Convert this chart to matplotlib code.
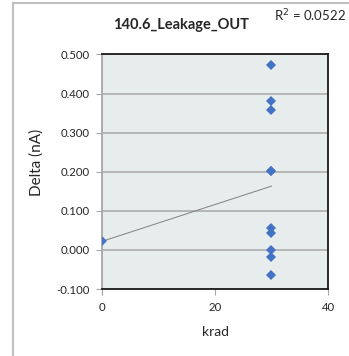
import matplotlib
matplotlib.use('Agg')
import matplotlib.pyplot as plt
from matplotlib.lines import Line2D
import numpy as np

plt.rcParams['font.family'] = ['Lato', 'DejaVu Sans']

krad = [0, 30, 30, 30, 30, 30, 30, 30, 30, 30, 30]
delta = [0.022, 0.472, 0.382, 0.357, 0.202, 0.201, 0.057, 0.044, 0.001, -0.019, -0.064]
x_ticks = [0, 20, 40]
y_ticks = [-0.1, 0.0, 0.1, 0.2, 0.3, 0.4, 0.5]
title = '140.6_Leakage_OUT'
r2_text = 'R$^2$ = 0.0522'

fig = plt.figure(figsize=(3.49, 3.56), dpi=100)
ax = fig.add_axes([0.2923, 0.188, 0.6475, 0.659])
ax.set_facecolor('#E7ECEC')

# trend line over the data range
k, b = np.polyfit(krad, delta, 1)
xs = np.array([min(krad), max(krad)])
ax.plot(xs, k * xs + b, color='#7F7F7F', linewidth=0.7, zorder=2)

ax.plot(krad, delta, linestyle='none', marker='D', markersize=5.2,
        color='#4472C4', markeredgewidth=0, zorder=3)

ax.set_xlim(0, 40)
ax.set_ylim(-0.1, 0.5)
ax.set_xticks(x_ticks)
ax.set_yticks(y_ticks)
ax.set_yticklabels([f'{v:.3f}' for v in y_ticks])
ax.grid(axis='y', color='#A6A6A6', linewidth=1.1)
ax.set_axisbelow(True)
ax.tick_params(labelsize=8.2, length=4, width=0.8, color='#A6A6A6', pad=5,
               labelcolor='#262626')

for s in ['top', 'right', 'bottom']:
    ax.spines[s].set_color('#1A1A1A')
    ax.spines[s].set_linewidth(1.3)
ax.spines['left'].set_color('#A6A6A6')
ax.spines['left'].set_linewidth(1.3)

ax.set_xlabel('krad', fontsize=10, color='#262626', labelpad=10)
ax.set_ylabel('Delta (nA)', fontsize=11, color='#262626')
ax.yaxis.set_label_coords(-0.257, 0.54)

fig.text(0.52, 0.93, title, fontsize=10.5, fontweight='bold', ha='center',
         va='center', color='#262626')
fig.text(0.785, 0.955, r2_text, fontsize=9.5, ha='left', va='center',
         color='#262626')

# outer chart frame (left and top edges visible)
fig.add_artist(Line2D([13 / 349, 13 / 349], [0, 1 - 3 / 356], color='#C0C0C0',
                      linewidth=1.5, transform=fig.transFigure))
fig.add_artist(Line2D([13 / 349, 1], [1 - 3 / 356, 1 - 3 / 356], color='#C0C0C0',
                      linewidth=1.5, transform=fig.transFigure))

fig.savefig('out.png', dpi=100)
